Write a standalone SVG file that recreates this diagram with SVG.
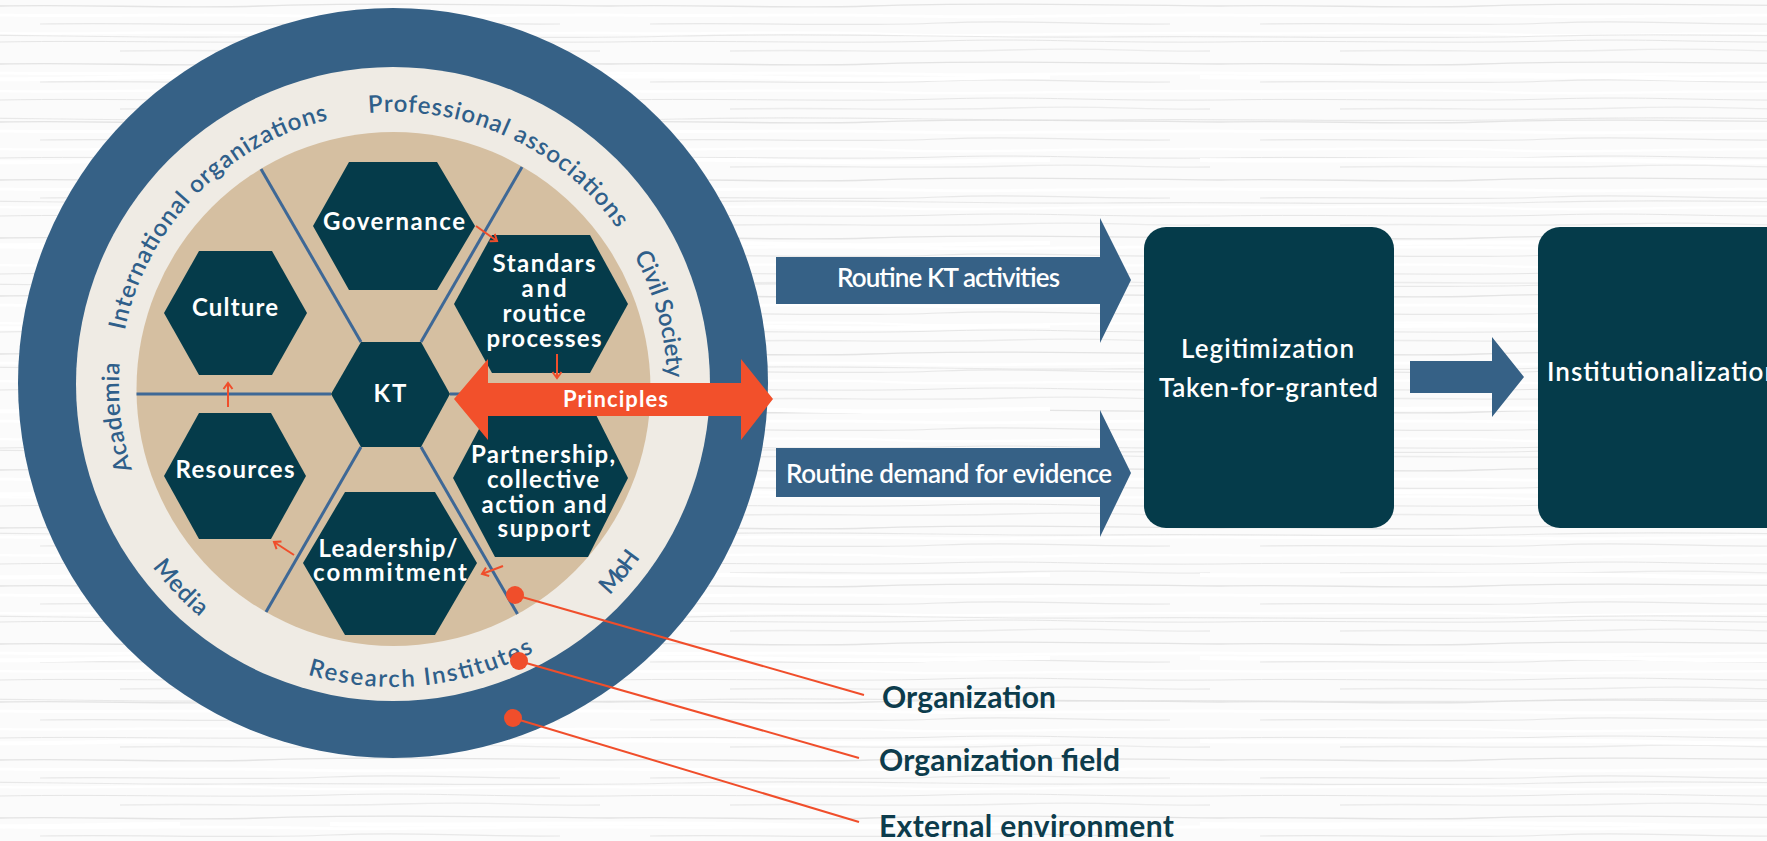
<svg xmlns="http://www.w3.org/2000/svg" width="1767" height="841" viewBox="0 0 1767 841">
<defs>
<pattern id="wood" width="610" height="58" patternUnits="userSpaceOnUse">
<rect width="610" height="58" fill="#fbfbfb"/>
<path d="M0 6 C 90 4, 170 9, 260 6 S 440 4, 610 6" stroke="#e4e4e4" stroke-width="1.4" fill="none"/>
<path d="M0 15 C 100 17, 200 13, 300 16 S 460 14, 610 15" stroke="#ffffff" stroke-width="3" fill="none"/>
<path d="M40 24 C 140 22, 240 27, 330 23 S 450 25, 560 24" stroke="#e8e8e8" stroke-width="1.2" fill="none"/>
<path d="M0 33 C 80 35, 190 30, 280 34 S 430 32, 610 33" stroke="#ffffff" stroke-width="2.5" fill="none"/>
<path d="M0 42 C 110 40, 230 44, 330 41 S 470 43, 610 42" stroke="#e6e6e6" stroke-width="1" fill="none"/>
<path d="M120 51 C 210 49, 300 53, 400 50 S 520 52, 600 51" stroke="#ececec" stroke-width="1.3" fill="none"/>
</pattern>
<pattern id="wood2" x="230" y="17" width="870" height="83" patternUnits="userSpaceOnUse">
<path d="M0 20 C 150 18, 300 23, 450 19 S 700 21, 870 20" stroke="#e0e0e0" stroke-width="1.2" fill="none" opacity="0.7"/>
<path d="M100 60 C 250 62, 400 57, 550 61 S 750 59, 820 60" stroke="#ffffff" stroke-width="4" fill="none"/>
</pattern>
<path id="p-academia" d="M142.7 497.4 A274 274 0 0 1 124.0 333.7"/>
<path id="p-intl" d="M121.7 347.9 A274 274 0 0 1 345.4 116.2"/>
<path id="p-prof" d="M344.9 116.2 A274 274 0 0 1 630.1 248.6"/>
<path id="p-civil" d="M617.2 228.5 A274 274 0 0 1 666.0 409.4"/>
<path id="p-media" d="M116.9 506.0 A301 301 0 0 0 258.7 655.4"/>
<path id="p-research" d="M269.1 660.3 A301 301 0 0 0 568.6 630.4"/>
<path id="p-moh" d="M568.2 630.7 A301 301 0 0 0 667.1 510.3"/>
<marker id="ah" markerWidth="12" markerHeight="12" refX="9" refY="6" orient="auto" markerUnits="userSpaceOnUse">
<path d="M3 1.5 L9 6 L3 10.5" fill="none" stroke="#F04E2B" stroke-width="2"/>
</marker>
<style>
.hex{fill:#053B4A}
.ht{font-family:Lato,"Open Sans","Liberation Sans",sans-serif;font-weight:700;font-size:24px;fill:#ffffff;text-anchor:middle}
.ring{font-family:Lato,"Open Sans","Liberation Sans",sans-serif;font-weight:600;font-size:24px;fill:#2F5F8A}
.div{stroke:#3E6896;stroke-width:3;fill:none}
.sm{stroke:#F04E2B;stroke-width:2;fill:none;marker-end:url(#ah)}
.blk{fill:#366186}
.box{fill:#053B4A}
.wt{font-family:Lato,"Open Sans","Liberation Sans",sans-serif;font-weight:600;font-size:26px;fill:#ffffff;text-anchor:middle}
.lg{font-family:Lato,"Open Sans","Liberation Sans",sans-serif;font-weight:700;font-size:30px;fill:#0D3C4C}
.ld{stroke:#F04E2B;stroke-width:2;fill:none}
.dot{fill:#F04E2B}
</style>
</defs>
<rect width="1767" height="841" fill="url(#wood)"/>
<rect width="1767" height="841" fill="url(#wood2)"/>

<g id="rings">
<circle cx="393" cy="383" r="375" fill="#366186"/>
<circle cx="393" cy="384" r="317" fill="#EFEBE4"/>
<circle cx="393.5" cy="389" r="257" fill="#D5BFA1"/>
</g>

<g id="ring-labels" class="ring">
<text><textPath href="#p-academia" startOffset="50%" text-anchor="middle" textLength="108" lengthAdjust="spacing">Academia</textPath></text>
<text><textPath href="#p-intl" startOffset="50%" text-anchor="middle" textLength="309" lengthAdjust="spacing">International organizations</textPath></text>
<text><textPath href="#p-prof" startOffset="50%" text-anchor="middle" textLength="287" lengthAdjust="spacing">Professional associations</textPath></text>
<text><textPath href="#p-civil" startOffset="50%" text-anchor="middle" textLength="128" lengthAdjust="spacing">Civil Society</textPath></text>
<text><textPath href="#p-media" startOffset="50%" text-anchor="middle" textLength="69" lengthAdjust="spacing">Media</textPath></text>
<text><textPath href="#p-research" startOffset="50%" text-anchor="middle" textLength="233" lengthAdjust="spacing">Research Institutes</textPath></text>
<text><textPath href="#p-moh" startOffset="50%" text-anchor="middle" textLength="49" lengthAdjust="spacing">MoH</textPath></text>
</g>

<g id="dividers">
<line class="div" x1="331" y1="394" x2="136.5" y2="394"/>
<line class="div" x1="450" y1="394" x2="650" y2="394"/>
<line class="div" x1="361" y1="342" x2="261" y2="169"/>
<line class="div" x1="421" y1="342" x2="522" y2="167"/>
<line class="div" x1="361" y1="447" x2="266" y2="612"/>
<line class="div" x1="421" y1="447" x2="517.5" y2="614"/>
</g>

<g id="node-governance">
<polygon class="hex" points="313,226 349,162 437,162 475,226 437,290 349,290"/>
<text class="ht" x="394" y="230" textLength="142" lengthAdjust="spacing">Governance</text>
</g>
<g id="node-culture">
<polygon class="hex" points="164,313 199,251 272,251 307,313 272,375 199,375"/>
<text class="ht" x="235" y="316" textLength="86" lengthAdjust="spacing">Culture</text>
</g>
<g id="node-resources">
<polygon class="hex" points="164,476 199,413 271,413 306,476 271,539 199,539"/>
<text class="ht" x="235" y="478" textLength="119" lengthAdjust="spacing">Resources</text>
</g>
<g id="node-kt">
<polygon class="hex" points="331,394 361,342 421,342 450,394 421,447 361,447"/>
<text class="ht" x="390" y="402" textLength="33" lengthAdjust="spacing">KT</text>
</g>
<g id="node-standards">
<polygon class="hex" points="454,304 492,235 590,235 628,304 590,373 492,373"/>
<text class="ht" x="544" y="272" textLength="103" lengthAdjust="spacing">Standars</text>
<text class="ht" x="544" y="297" textLength="45" lengthAdjust="spacing">and</text>
<text class="ht" x="544" y="322" textLength="83" lengthAdjust="spacing">routice</text>
<text class="ht" x="544" y="347" textLength="115" lengthAdjust="spacing">processes</text>
</g>
<g id="node-partnership">
<polygon class="hex" points="453,478 495,399 588,399 628,478 588,557 495,557"/>
<text class="ht" x="543" y="463" textLength="144" lengthAdjust="spacing">Partnership,</text>
<text class="ht" x="543" y="488" textLength="112" lengthAdjust="spacing">collective</text>
<text class="ht" x="544" y="513" textLength="125" lengthAdjust="spacing">action and</text>
<text class="ht" x="544" y="537" textLength="93" lengthAdjust="spacing">support</text>
</g>
<g id="node-leadership">
<polygon class="hex" points="303,563 345,492 435,492 477,563 435,635 345,635"/>
<text class="ht" x="388" y="557" textLength="139" lengthAdjust="spacing">Leadership/</text>
<text class="ht" x="390" y="581" textLength="154" lengthAdjust="spacing">commitment</text>
</g>

<g id="node-legitimization">
<rect class="box" x="1144" y="227" width="250" height="301" rx="22"/>
<text class="wt" x="1267.5" y="358" textLength="173" lengthAdjust="spacing">Legitimization</text>
<text class="wt" x="1268.5" y="397" textLength="219" lengthAdjust="spacing">Taken-for-granted</text>
</g>
<g id="node-institutionalization">
<rect class="box" x="1538" y="227" width="260" height="301" rx="22"/>
<text class="wt" x="1547" y="381" style="text-anchor:start" textLength="232" lengthAdjust="spacing">Institutionalization</text>
</g>

<g id="legend">
<text class="lg" x="882" y="708" textLength="174" lengthAdjust="spacing">Organization</text>
<text class="lg" x="879" y="771" textLength="241" lengthAdjust="spacing">Organization field</text>
<text class="lg" x="879" y="837" textLength="295" lengthAdjust="spacing">External environment</text>
</g>

<g id="connectors">
<path class="sm" d="M476 226 L497 241"/>
<path class="sm" d="M557 354 L557 378"/>
<path class="sm" d="M503 566 L482 574"/>
<path class="sm" d="M294 555 L274 542"/>
<path class="sm" d="M228 407 L228 383"/>
<g id="principles">
<polygon fill="#F2502B" points="454,399 488,359 488,383 741,383 741,359 773,399 741,440 741,416 488,416 488,440"/>
<text x="615.5" y="407" font-family="Lato,'Open Sans','Liberation Sans',sans-serif" font-weight="700" font-size="22" fill="#ffffff" text-anchor="middle" textLength="105" lengthAdjust="spacing">Principles</text>
</g>
<g id="arrow-kt-activities">
<polygon class="blk" points="776,257 1100,257 1100,218 1131,280 1100,343 1100,304 776,304"/>
<text class="wt" x="948.5" y="287" textLength="223" lengthAdjust="spacing">Routine KT activities</text>
</g>
<g id="arrow-demand">
<polygon class="blk" points="776,448 1100,448 1100,410 1131,473 1100,537 1100,497 776,497"/>
<text class="wt" x="949" y="483" textLength="326" lengthAdjust="spacing">Routine demand for evidence</text>
</g>
<polygon id="arrow-mid" class="blk" points="1410,361 1492,361 1492,337 1524,377 1492,417 1492,393 1410,393"/>
<g id="leaders">
<line class="ld" x1="515" y1="595" x2="864" y2="695"/>
<line class="ld" x1="519" y1="661" x2="859" y2="758"/>
<line class="ld" x1="513" y1="718" x2="859" y2="822"/>
<circle class="dot" cx="515" cy="595" r="9"/>
<circle class="dot" cx="519" cy="661" r="9"/>
<circle class="dot" cx="513" cy="718" r="9"/>
</g>
</g>
</svg>
